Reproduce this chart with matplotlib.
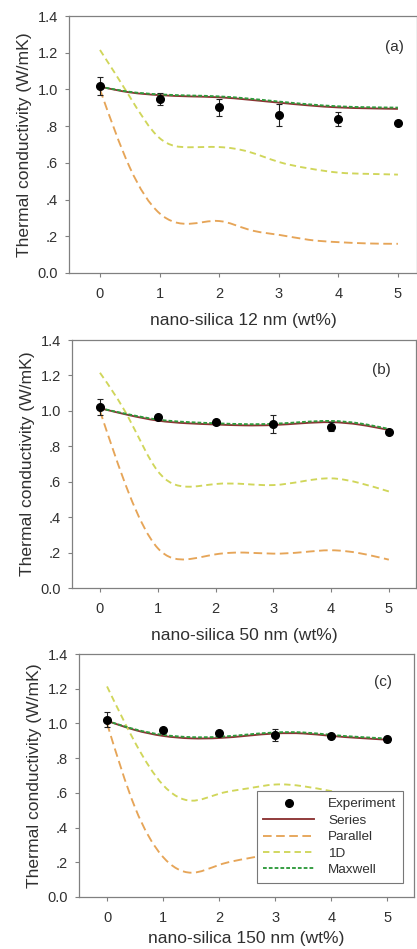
import numpy as np
import matplotlib
matplotlib.use('Agg')
import matplotlib.pyplot as plt
from matplotlib.path import Path
from matplotlib.patches import PathPatch
from matplotlib.lines import Line2D

plt.rcParams['font.family'] = ['Liberation Sans', 'DejaVu Sans']

# wt% loadings of the measured samples and the grid the model curves were read on
x_exp = [0, 1, 2, 3, 4, 5]
x_model = [0, 0.5, 1, 1.5, 2, 2.5, 3, 3.5, 4, 4.5, 5]

# (a) 12 nm
exp_a = [1.018, 0.946, 0.902, 0.862, 0.839, 0.819]
err_a = [0.047, 0.033, 0.045, 0.060, 0.036, 0.008]
series_a = [1.015, 0.984, 0.969, 0.962, 0.957, 0.944, 0.928, 0.913, 0.902, 0.897, 0.894]
maxwell_a = [1.015, 0.987, 0.973, 0.967, 0.962, 0.950, 0.934, 0.919, 0.908, 0.903, 0.901]
parallel_a = [1.000, 0.575, 0.325, 0.268, 0.283, 0.236, 0.208, 0.181, 0.168, 0.161, 0.159]
oned_a = [1.215, 0.960, 0.735, 0.685, 0.686, 0.660, 0.605, 0.570, 0.547, 0.540, 0.536]

# (b) 50 nm
exp_b = [1.021, 0.966, 0.935, 0.926, 0.911, 0.883]
err_b = [0.047, 0.012, 0.010, 0.053, 0.024, 0.008]
series_b = [1.015, 0.976, 0.945, 0.930, 0.923, 0.918, 0.920, 0.930, 0.936, 0.922, 0.892]
maxwell_b = [1.015, 0.980, 0.951, 0.937, 0.930, 0.925, 0.927, 0.937, 0.943, 0.929, 0.898]
parallel_b = [1.000, 0.535, 0.225, 0.162, 0.190, 0.200, 0.194, 0.202, 0.213, 0.196, 0.160]
oned_b = [1.215, 0.958, 0.660, 0.572, 0.587, 0.587, 0.581, 0.602, 0.619, 0.592, 0.545]

# (c) 150 nm
exp_c = [1.021, 0.964, 0.943, 0.932, 0.925, 0.908]
err_c = [0.043, 0.008, 0.010, 0.036, 0.010, 0.015]
series_c = [1.015, 0.962, 0.928, 0.914, 0.916, 0.929, 0.942, 0.942, 0.928, 0.916, 0.906]
maxwell_c = [1.015, 0.966, 0.934, 0.921, 0.923, 0.936, 0.948, 0.948, 0.934, 0.922, 0.913]
parallel_c = [1.000, 0.515, 0.230, 0.140, 0.185, 0.222, 0.250, 0.262, 0.255, 0.232, 0.205]
oned_c = [1.213, 0.890, 0.645, 0.555, 0.595, 0.625, 0.648, 0.638, 0.610, 0.580, 0.550]

xlabels = ['nano-silica 12 nm (wt%)', 'nano-silica 50 nm (wt%)', 'nano-silica 150 nm (wt%)']
panel_tags = ['(a)', '(b)', '(c)']
yticks = [0.0, 0.2, 0.4, 0.6, 0.8, 1.0, 1.2, 1.4]
ytick_labels = ['0.0', '.2', '.4', '.6', '.8', '1.0', '1.2', '1.4']
xticks = [0, 1, 2, 3, 4, 5]

panels = [
    (exp_a, err_a, series_a, parallel_a, oned_a, maxwell_a),
    (exp_b, err_b, series_b, parallel_b, oned_b, maxwell_b),
    (exp_c, err_c, series_c, parallel_c, oned_c, maxwell_c),
]

# line styles: (label, colour, dash pattern)
styles = [
    ('Series', '#8c3434', '-'),
    ('Parallel', '#e6a558', (0, (4.6, 2.4))),
    ('1D', '#d0d65a', (0, (3.4, 2.2))),
    ('Maxwell', '#2f9a3c', (0, (2.0, 1.1))),
]


def spline_path(x, y):
    """Natural cubic spline through the points, as a Bezier path."""
    x = np.asarray(x, float)
    y = np.asarray(y, float)
    n = len(x)
    h = np.diff(x)
    d = np.diff(y) / h
    A = np.zeros((n, n))
    b = np.zeros(n)
    A[0, 0], A[0, 1], b[0] = 2 / h[0], 1 / h[0], 3 * d[0] / h[0]
    for i in range(1, n - 1):
        A[i, i - 1] = 1 / h[i - 1]
        A[i, i] = 2 * (1 / h[i - 1] + 1 / h[i])
        A[i, i + 1] = 1 / h[i]
        b[i] = 3 * (d[i - 1] / h[i - 1] + d[i] / h[i])
    A[-1, -2], A[-1, -1], b[-1] = 1 / h[-1], 2 / h[-1], 3 * d[-1] / h[-1]
    m = np.linalg.solve(A, b)
    verts = [(x[0], y[0])]
    codes = [Path.MOVETO]
    for i in range(n - 1):
        verts += [(x[i] + h[i] / 3, y[i] + m[i] * h[i] / 3),
                  (x[i + 1] - h[i] / 3, y[i + 1] - m[i + 1] * h[i] / 3),
                  (x[i + 1], y[i + 1])]
        codes += [Path.CURVE4] * 3
    return Path(verts, codes)


W, H = 417, 949
fig = plt.figure(figsize=(W / 100, H / 100), dpi=100)

# axes boxes in pixels: left, right, top, bottom, and x-limits
boxes = [
    (69, 417, 16, 273, (-0.52, 5.32)),
    (72, 416, 340, 588, (-0.484, 5.47)),
    (79, 414, 654, 897, (-0.50, 5.475)),
]
tag_pos = [(0.934, 0.879), (0.90, 0.879), (0.907, 0.885)]
xlabel_pads = [9, 9, 4.5]

spine_col = '#808080'
text_col = '#303030'
lw = 1.35

for k, (data, box) in enumerate(zip(panels, boxes)):
    l, r, t, bt, xl = box
    ax = fig.add_axes([l / W, 1 - bt / H, (r - l) / W, (bt - t) / H])
    exp, err = data[0], data[1]
    for curve, (lab, col, ls) in zip(data[2:], styles):
        patch = PathPatch(spline_path(x_model, curve), facecolor='none', edgecolor=col,
                          linewidth=lw, linestyle=ls, zorder=2)
        ax.add_patch(patch)
    ax.errorbar(x_exp, exp, yerr=err, fmt='o', color='black', ecolor='#222222',
                markersize=5.5, elinewidth=0.8, capsize=2.5, capthick=0.8, zorder=4)

    ax.set_xlim(*xl)
    ax.set_ylim(0, 1.4)
    ax.set_xticks(xticks)
    ax.set_yticks(yticks)
    ax.set_yticklabels(ytick_labels)
    for s in ax.spines.values():
        s.set_color(spine_col)
        s.set_linewidth(0.9)
    ax.tick_params(direction='out', length=3, width=0.8, color=spine_col,
                   labelsize=10.5, labelcolor=text_col, pad=5)
    ax.tick_params(axis='x', pad=7)
    ax.set_ylabel('Thermal conductivity (W/mK)', fontsize=12.6, color=text_col, labelpad=4)
    ax.set_xlabel(xlabels[k], fontsize=12.6, color=text_col, labelpad=xlabel_pads[k])
    ax.text(*tag_pos[k], panel_tags[k], transform=ax.transAxes, fontsize=11,
            color=text_col, ha='center', va='center')

    if k == 2:
        handles = [Line2D([], [], marker='o', color='black', linestyle='none', markersize=5.5)]
        handles += [Line2D([], [], color=col, linestyle=ls, linewidth=lw) for _, col, ls in styles]
        labels = ['Experiment'] + [s[0] for s in styles]
        leg = ax.legend(handles, labels, loc='lower right', bbox_to_anchor=(0.967, 0.058),
                        borderaxespad=0, fontsize=9.7, handlelength=3.8, handletextpad=1.0,
                        labelspacing=0.3, borderpad=0.5, fancybox=False, framealpha=1,
                        edgecolor='#777777')
        leg.get_frame().set_linewidth(0.8)
        for txt in leg.get_texts():
            txt.set_color(text_col)

fig.savefig('out.png', dpi=100)
